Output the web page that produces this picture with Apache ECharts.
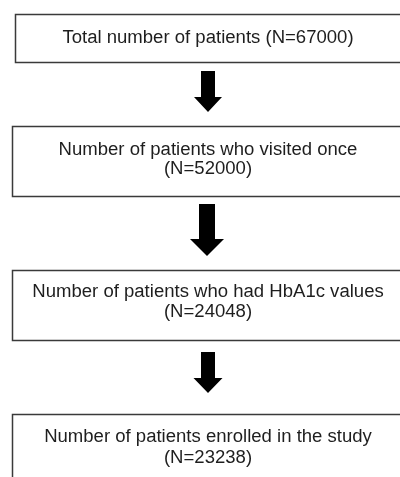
<!DOCTYPE html>
<html style="height: 100%">
<head>
    <meta charset="utf-8">
</head>
<body style="height: 100%; margin: 0; background: #fff">
    <div id="container" style="width: 400px; height: 477px"></div>
    <script src="https://cdn.jsdelivr.net/npm/echarts@6/dist/echarts.min.js"></script>
    <script type="text/javascript">
        // flow steps
        var stepLabels = [
            'Total number of patients',
            'Number of patients who visited once',
            'Number of patients who had HbA1c values',
            'Number of patients enrolled in the study'
        ];
        var stepCounts = [67000, 52000, 24048, 23238];
        // first step is written on one line
        var singleLine = [true, false, false, false];

        var myChart = echarts.init(document.getElementById('container'));

        // box geometry (px)
        var boxes = [
            { x: 15, y: 14, h: 48, cx: 208, cy: 38, lh: 20 },
            { x: 12, y: 126, h: 70, cx: 208, cy: 159.5, lh: 19.5 },
            { x: 12, y: 270, h: 70, cx: 208, cy: 302, lh: 20 },
            { x: 12, y: 414, h: 72, cx: 208, cy: 448, lh: 21 }
        ];
        // arrows: centre x, shaft top, head top, tip, half widths
        var arrows = [
            { cx: 208, top: 71, headTop: 97, tip: 112, sw: 7, hw: 14 },
            { cx: 207, top: 204, headTop: 239, tip: 256, sw: 8, hw: 17 },
            { cx: 208, top: 352, headTop: 378, tip: 393, sw: 7, hw: 14.5 }
        ];

        var font = '18px "Liberation Sans", Arial, sans-serif';
        var elements = [];

        boxes.forEach(function (b, i) {
            elements.push({
                type: 'rect',
                shape: { x: b.x + 0.5, y: b.y + 0.5, width: 420, height: b.h },
                style: { fill: '#fff', stroke: '#3a3a3a', lineWidth: 1.5 }
            });
            var n = '(N=' + stepCounts[i] + ')';
            var lines = singleLine[i] ? [stepLabels[i] + ' ' + n] : [stepLabels[i], n];
            lines.forEach(function (t, j) {
                elements.push({
                    type: 'text',
                    x: b.cx,
                    y: b.cy + (j - (lines.length - 1) / 2) * b.lh,
                    scaleX: 1.03,
                    style: {
                        text: t,
                        font: font,
                        fill: '#1e1e1e',
                        align: 'center',
                        verticalAlign: 'middle'
                    }
                });
            });
        });

        arrows.forEach(function (a) {
            elements.push({
                type: 'polygon',
                shape: {
                    points: [
                        [a.cx - a.sw, a.top], [a.cx + a.sw, a.top],
                        [a.cx + a.sw, a.headTop], [a.cx + a.hw, a.headTop],
                        [a.cx, a.tip],
                        [a.cx - a.hw, a.headTop], [a.cx - a.sw, a.headTop]
                    ]
                },
                style: { fill: '#000' }
            });
        });

        var option = {
            animation: false,
            backgroundColor: '#fff',
            graphic: { elements: elements }
        };

        myChart.setOption(option);
    </script>
</body>
</html>
